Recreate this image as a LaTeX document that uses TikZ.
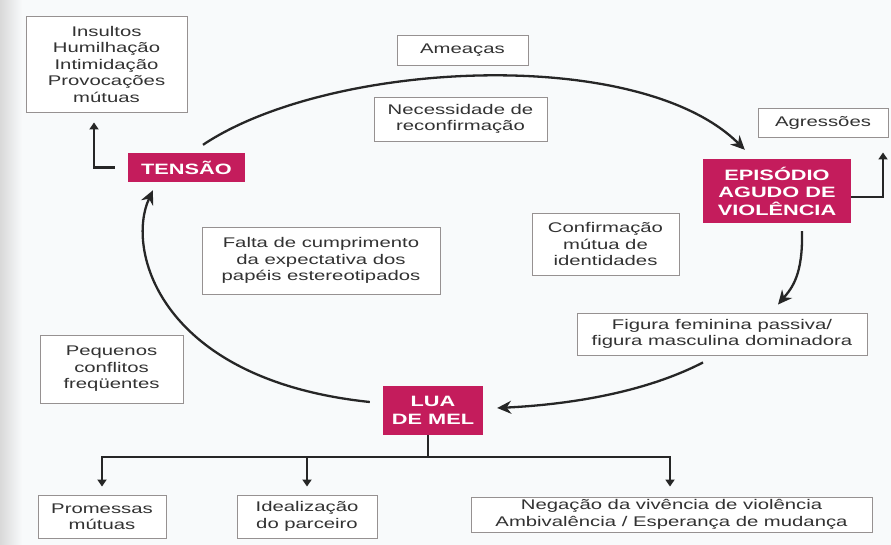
\documentclass[tikz,border=0pt]{standalone}
\usepackage{fontspec}
\setmainfont{Liberation Sans}[FakeStretch=1.45]
\usetikzlibrary{arrows.meta}
\definecolor{mag}{RGB}{196,28,92}
\definecolor{txt}{RGB}{50,50,50}
\definecolor{bord}{RGB}{150,145,145}
\definecolor{bg}{RGB}{248,250,251}
\tikzset{
  box/.style={draw=bord, line width=0.9pt, fill=white, text=txt, align=center, inner sep=0pt,
    font=\fontsize{14}{16.5}\selectfont},
  phase/.style={fill=mag, text=white, align=center, inner sep=0pt,
    font=\fontsize{15}{17.5}\selectfont\bfseries},
  arr/.style={draw=black!85, line width=2.3pt, -{Stealth[length=14pt,width=13pt]}},
  tarr/.style={draw=black!85, line width=2.2pt, -{Triangle[length=7pt,width=9pt]}},
  ln/.style={draw=black!85, line width=2.2pt},
}
\begin{document}
\begin{tikzpicture}[x=1pt,y=-1pt]
\useasboundingbox (0,0) rectangle (891,545);
\fill[bg] (0,0) rectangle (891,545);
\shade[left color=gray!30, right color=bg] (0,0) rectangle (22,545);

% phase nodes
\node[phase, minimum width=117pt, minimum height=29pt] (tensao) at (186.5,167.5) {TENSÃO};
\node[phase, minimum width=148pt, minimum height=64pt] (epi) at (777,191) {EPISÓDIO\\AGUDO DE\\VIOLÊNCIA};
\node[phase, minimum width=100pt, minimum height=49pt] (lua) at (433,410.5) {LUA\\DE MEL};

% text boxes
\node[box, minimum width=161pt, minimum height=96pt] (ins) at (106.5,64) {Insultos\\Humilhação\\Intimidação\\Provocações\\mútuas};
\node[box, minimum width=131pt, minimum height=30pt] (amea) at (462.5,50) {Ameaças};
\node[box, minimum width=173pt, minimum height=44pt] (nec) at (460.5,119) {Necessidade de\\reconfirmação};
\node[box, minimum width=130pt, minimum height=29pt] (agr) at (823,122.5) {Agressões};
\node[box, minimum width=147pt, minimum height=62pt] (conf) at (605.5,244) {Confirmação\\mútua de\\identidades};
\node[box, minimum width=290pt, minimum height=42pt] (fig) at (722,334) {Figura feminina passiva/\\figura masculina dominadora};
\node[box, minimum width=238pt, minimum height=67pt] (falta) at (321,260.5) {Falta de cumprimento\\da expectativa dos\\papéis estereotipados};
\node[box, minimum width=143pt, minimum height=68pt] (peq) at (111.5,369) {Pequenos\\conflitos\\freqüentes};
\node[box, minimum width=128pt, minimum height=43pt] (prom) at (102,516.5) {Promessas\\mútuas};
\node[box, minimum width=140pt, minimum height=43pt] (ideal) at (307,516.5) {Idealização\\do parceiro};
\node[box, minimum width=401pt, minimum height=35pt] (neg) at (671.5,514.5) {Negação da vivência de violência\\Ambivalência / Esperança de mudança};

% cycle arcs
\draw[arr] ([xshift=16.5pt,yshift=8pt]tensao.north) .. controls (330,60) and (640,45) .. ([xshift=42pt,yshift=9pt]epi.north west);
\draw[arr] ([xshift=25pt,yshift=-8pt]epi.south) .. controls (803,275) and (792,288) .. ([xshift=56pt,yshift=8pt]fig.north);
\draw[arr] ([xshift=-19pt,yshift=-7pt]fig.south) .. controls (640,395) and (560,405) .. ([xshift=14pt,yshift=2.5pt]lua.east);
\draw[arr] ([xshift=-13pt,yshift=8.5pt]lua.west) .. controls (160,380) and (125,250) .. ([xshift=-33.5pt,yshift=-8pt]tensao.south);

% side L arrows
\draw[tarr] ([xshift=-13pt]tensao.west) -| ([xshift=-12.5pt,yshift=-10pt]ins.south);
\draw[tarr] ([yshift=-6pt]epi.east) -| ([xshift=60pt,yshift=-15pt]agr.south);

% tree
\draw[ln] ([xshift=-5pt]lua.south) -- ++(0,22) coordinate (j);
\draw[tarr] (j) -| ([yshift=8pt]prom.north);
\draw[tarr] (j) -| ([yshift=8pt]ideal.north);
\draw[tarr] (j) -| ([xshift=-1.5pt,yshift=10pt]neg.north);
\end{tikzpicture}
\end{document}
